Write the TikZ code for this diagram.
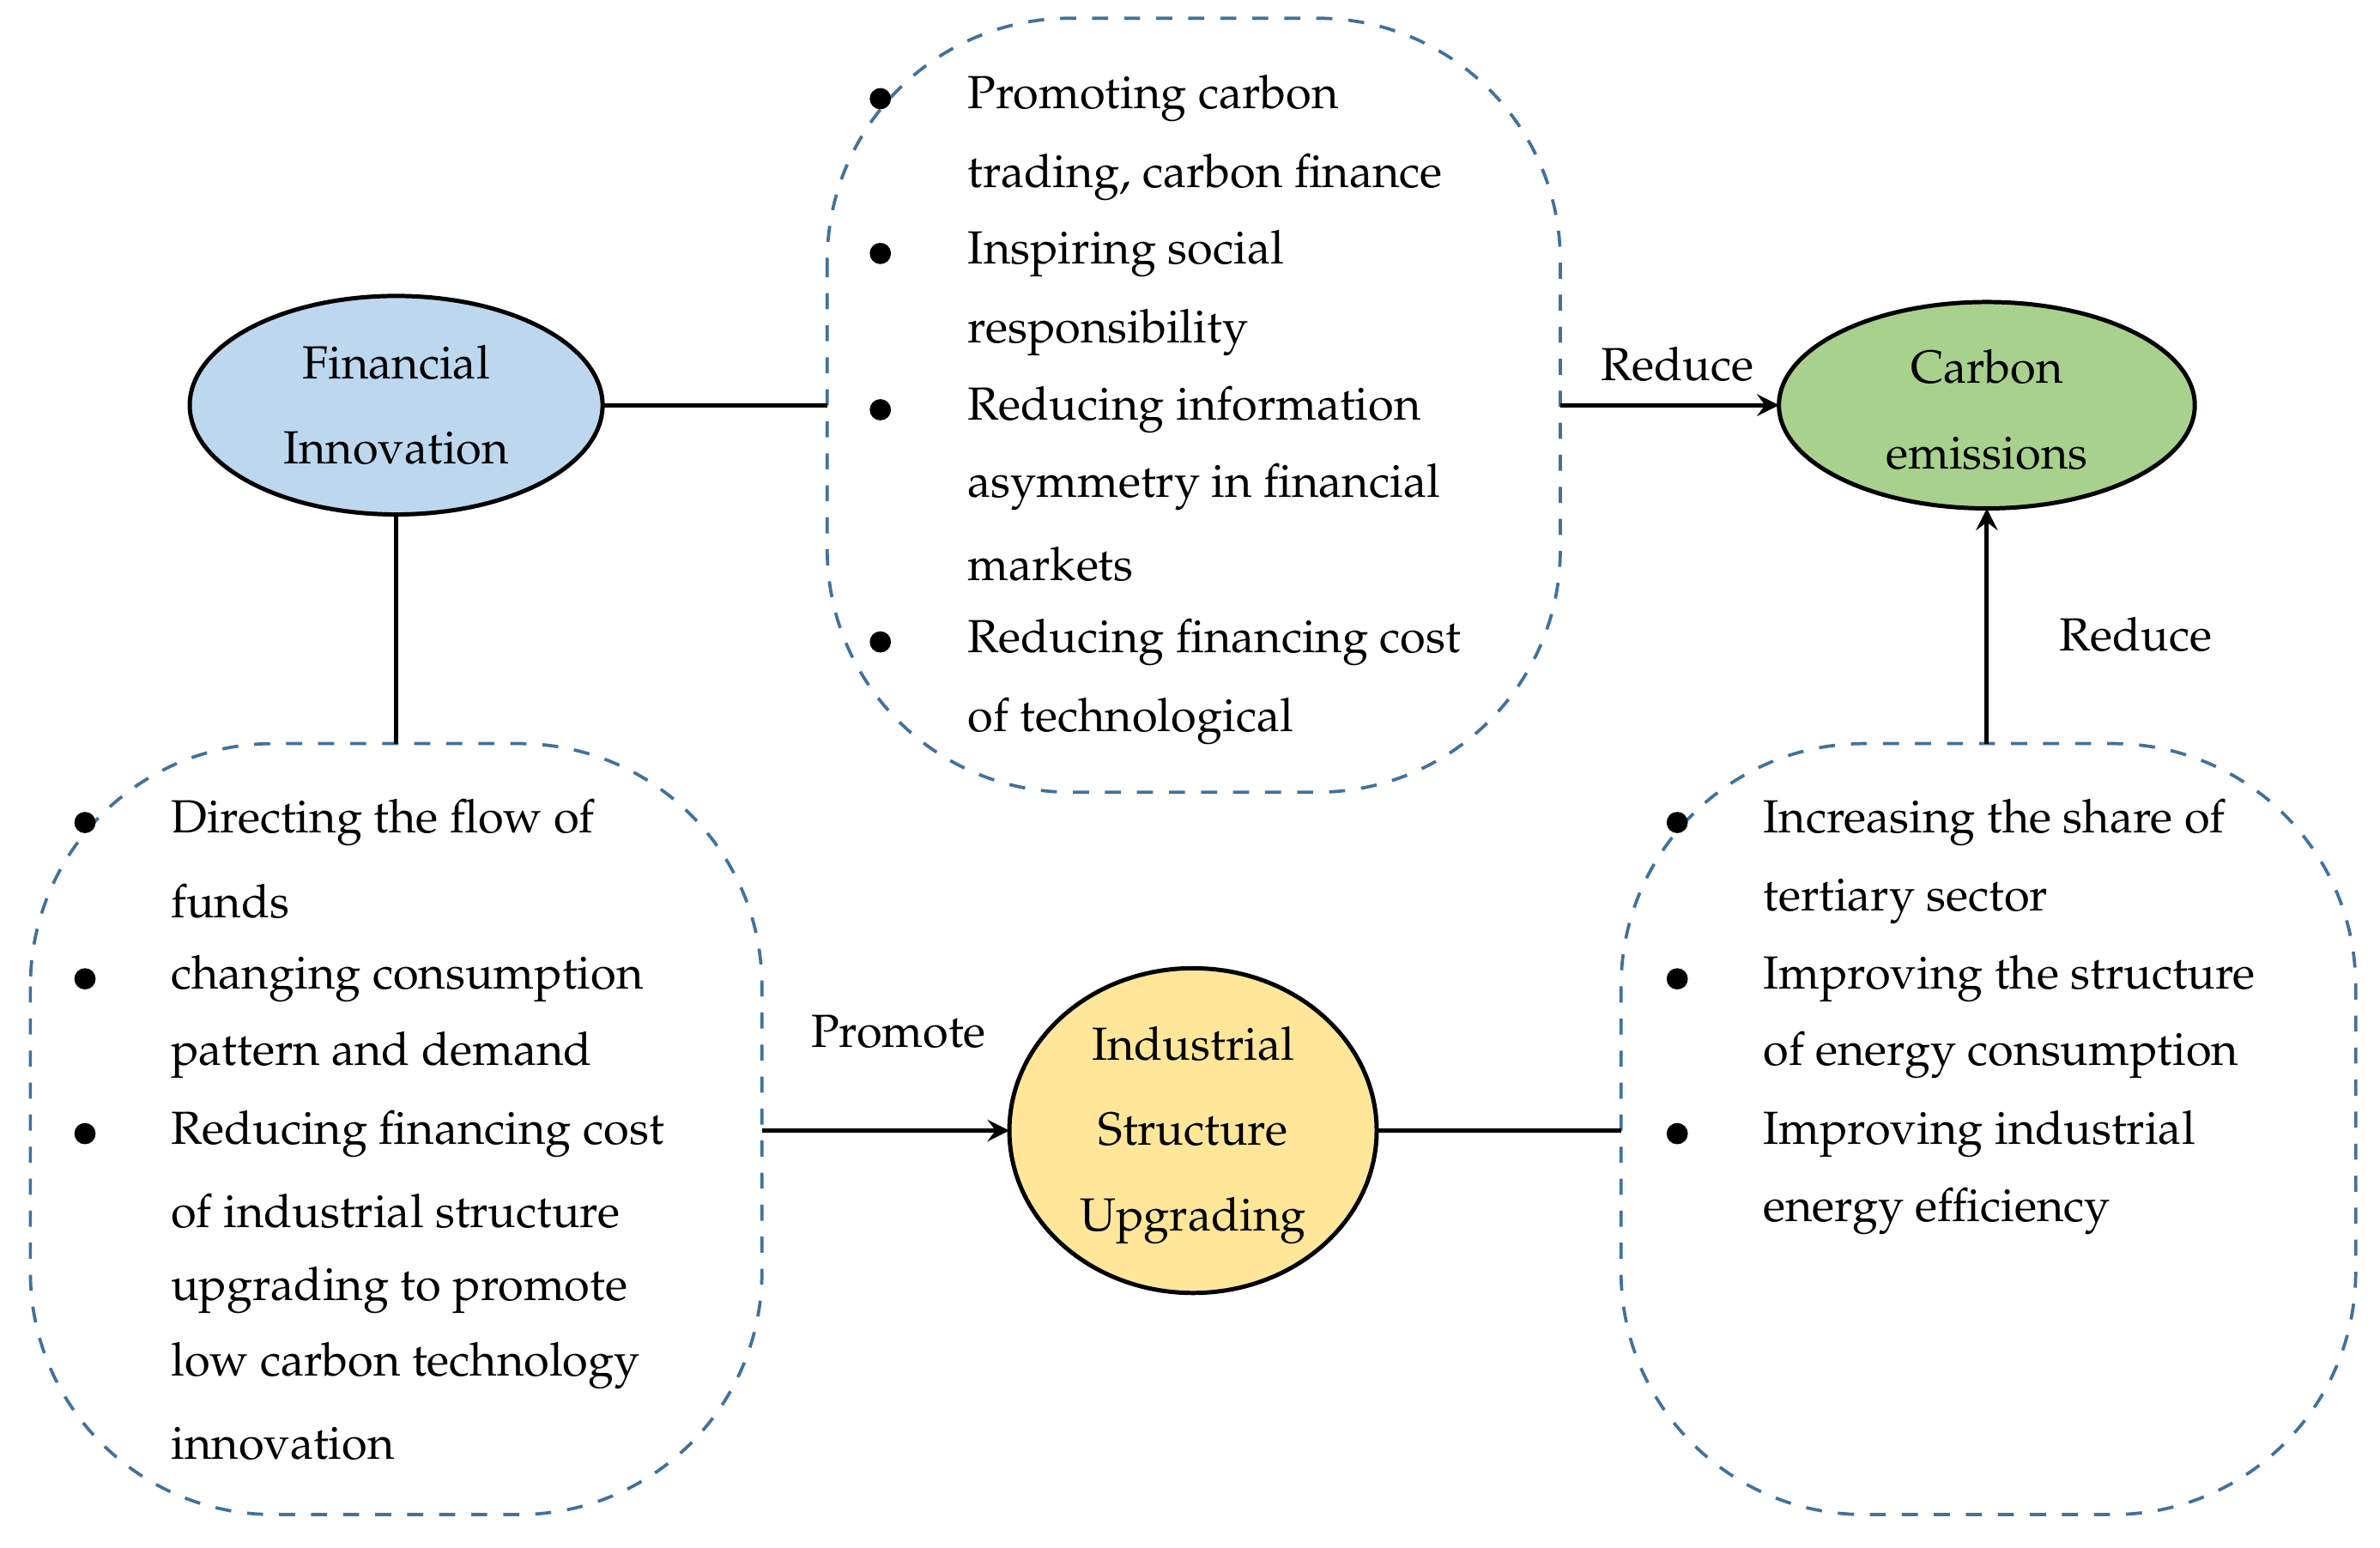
\documentclass[tikz,border=0pt]{standalone}
\usepackage[T1]{fontenc}
\usepackage{mathpazo}
\begin{document}
\begin{tikzpicture}[x=0.01cm,y=-0.01cm,
  box/.style={draw=dashc,dashed,line width=0.6pt,rounded corners=1.6cm},
  ell/.style={draw,line width=0.8pt},
  txt/.style={anchor=west,inner sep=0pt,font=\fontsize{8.7}{10}\selectfont},
  lab/.style={inner sep=0pt,font=\fontsize{8.7}{10}\selectfont},
  bul/.style={circle,fill=black,inner sep=0pt,minimum size=0.14cm},
  conn/.style={line width=0.8pt},
  arr/.style={line width=0.8pt,->,>=stealth}]
\definecolor{dashc}{HTML}{41719C}
\definecolor{cblue}{HTML}{BDD7EE}
\definecolor{cgreen}{HTML}{A9D18E}
\definecolor{cyel}{HTML}{FFE699}
\useasboundingbox (0,0) rectangle (1568,1020);
% boxes
\draw[box] (545,12) rectangle (1028,522); \coordinate (tbW) at (545,267); \coordinate (tbE) at (1028,267);
\draw[box] (20,490) rectangle (502,998); \coordinate (lbN) at (261,490); \coordinate (lbE) at (502,745);
\draw[box] (1068,490) rectangle (1552,998); \coordinate (rbN) at (1309,490); \coordinate (rbW) at (1068,745);
% ellipses
\draw[ell,fill=cblue] (261,267) ellipse [x radius=136, y radius=72];
\node[lab,align=center] (fi) at (261,267) {Financial\\[6pt]Innovation};
\coordinate (fiE) at (397,267); \coordinate (fiS) at (261,339);
\draw[ell,fill=cgreen] (1309,267) ellipse [x radius=137, y radius=68];
\node[lab,align=center] (ce) at (1309,270) {Carbon\\[6pt]emissions};
\coordinate (ceW) at (1172,267); \coordinate (ceS) at (1309,335);
\draw[ell,fill=cyel] (786,745) ellipse [x radius=121, y radius=107];
\node[lab,align=center] (isu) at (786,748) {Industrial\\[6pt]Structure\\[6pt]Upgrading};
\coordinate (isW) at (665,745); \coordinate (isE) at (907,745);
% connectors
\draw[conn] (fiE) -- (tbW);
\draw[arr] (tbE) -- (ceW);
\draw[conn] (fiS) -- (lbN);
\draw[arr] (lbE) -- (isW);
\draw[conn] (isE) -- (rbW);
\draw[arr] (rbN) -- (ceS);
\node[lab] (r1) at (1105,240) {Reduce};
\node[lab] (pr) at (592,680) {Promote};
\node[lab] (r2) at (1407,418) {Reduce};
% top box text
\foreach \y in {65,167,270,423} \node[bul] at (580,\y) {};
\foreach \y/\t [count=\i] in {65/Promoting carbon,117/{trading, carbon finance},167/Inspiring social,219/responsibility,270/Reducing information,321/asymmetry in financial,372/markets,423/Reducing financing cost,475/of technological}
  \node[txt] (t\i) at (637,\y) {\t};
% left box text
\foreach \y in {542,645,747} \node[bul] at (56,\y) {};
\foreach \y/\t [count=\i] in {542/Directing the flow of,594/funds,645/changing consumption,695/pattern and demand,747/Reducing financing cost,798/of industrial structure,850/upgrading to promote,900/low carbon technology,951/innovation}
  \node[txt] (l\i) at (112,\y) {\t};
% right box text
\foreach \y in {542,645,747} \node[bul] at (1105,\y) {};
\foreach \y/\t [count=\i] in {542/Increasing the share of,594/tertiary sector,645/Improving the structure,695/of energy consumption,747/Improving industrial,798/energy efficiency}
  \node[txt] (r\i) at (1161,\y) {\t};
\end{tikzpicture}
\end{document}
